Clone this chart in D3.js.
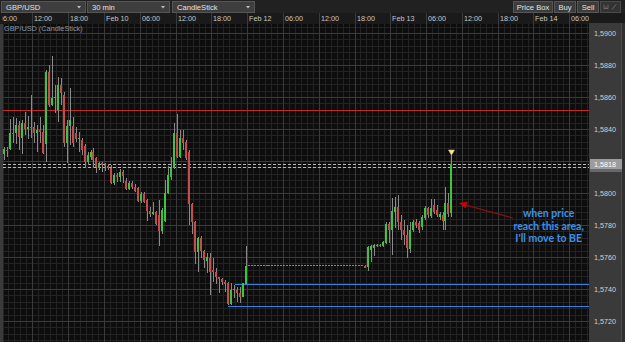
<!DOCTYPE html>
<html><head><meta charset="utf-8">
<script src="https://cdn.jsdelivr.net/npm/d3@7"></script>
<style>html,body{margin:0;padding:0;background:#1f1f1f;overflow:hidden}svg{display:block}</style>
</head><body><svg id="c" width="625" height="342"></svg>
<script>
// ---------------- DATA ----------------
const opens = [
1.58244,1.58269,1.58275,1.58375,1.58375,1.58425,1.58344,1.58437,1.58400,1.58412,
1.58412,1.58375,1.58394,1.58381,1.58306,1.58756,1.58550,1.58594,1.58519,1.58675,
1.58612,1.58312,1.58419,1.58419,1.58375,1.58337,1.58331,1.58294,1.58194,1.58225,
1.58256,1.58219,1.58156,1.58187,1.58175,1.58169,1.58156,1.58062,1.58112,1.58100,
1.58131,1.58075,1.58025,1.58062,1.58037,1.58031,1.57950,1.57994,1.57956,1.57887,
1.57869,1.57881,1.57862,1.57762,1.57825,1.58000,1.58100,1.58156,1.58375,1.58225,
1.58344,1.58319,1.58256,1.57931,1.57819,1.57631,1.57719,1.57637,1.57575,1.57594,
1.57519,1.57506,1.57475,1.57462,1.57444,1.57437,1.57306,1.57394,1.57394,1.57375,
1.57350,1.57431,
1.57547,1.57547,1.57547,1.57547,1.57547,1.57547,1.57547,1.57547,1.57547,1.57547,
1.57547,1.57547,1.57547,1.57547,1.57547,1.57547,1.57547,1.57547,1.57547,1.57547,
1.57547,1.57547,1.57547,1.57547,1.57547,1.57547,1.57547,1.57547,1.57547,1.57547,
1.57547,1.57547,1.57547,1.57547,1.57547,1.57547,1.57547,1.57547,1.57547,
1.57546,1.57537,1.57644,1.57656,1.57672,1.57675,1.57669,1.57687,1.57806,
1.57769,1.57881,1.57912,1.57819,1.57769,1.57737,1.57650,1.57769,1.57819,1.57812,
1.57787,1.57844,1.57906,1.57856,1.57925,1.57894,1.57850,1.57862,1.57825,1.57937,
1.57875];
const closes = [
1.58275,1.58262,1.58375,1.58369,1.58425,1.58350,1.58437,1.58400,1.58412,1.58406,
1.58375,1.58394,1.58381,1.58250,1.58756,1.58550,1.58594,1.58600,1.58675,1.58625,
1.58312,1.58419,1.58456,1.58312,1.58337,1.58344,1.58269,1.58194,1.58237,1.58256,
1.58206,1.58162,1.58187,1.58175,1.58169,1.58156,1.58062,1.58112,1.58100,1.58131,
1.58106,1.58025,1.58062,1.58037,1.58012,1.57950,1.57994,1.57944,1.57887,1.57869,
1.57881,1.57806,1.57762,1.57894,1.58000,1.58112,1.58156,1.58375,1.58225,1.58344,
1.58312,1.58219,1.57931,1.57819,1.57631,1.57719,1.57637,1.57581,1.57600,1.57506,
1.57506,1.57475,1.57462,1.57444,1.57431,1.57306,1.57394,1.57397,1.57375,1.57350,
1.57437,1.57544,
1.57547,1.57547,1.57547,1.57547,1.57547,1.57547,1.57547,1.57547,1.57547,1.57547,
1.57547,1.57547,1.57547,1.57547,1.57547,1.57547,1.57547,1.57547,1.57547,1.57547,
1.57547,1.57547,1.57547,1.57547,1.57547,1.57547,1.57547,1.57547,1.57547,1.57547,
1.57547,1.57547,1.57547,1.57547,1.57547,1.57547,1.57547,1.57547,1.57547,
1.57534,1.57662,1.57669,1.57675,1.57675,1.57672,1.57694,1.57806,1.57769,
1.57887,1.57912,1.57819,1.57769,1.57737,1.57656,1.57769,1.57819,1.57800,1.57769,
1.57850,1.57906,1.57862,1.57906,1.57881,1.57862,1.57869,1.57825,1.57937,1.57869,
1.58180];
const highs = [
1.58287,1.58287,1.58462,1.58475,1.58469,1.58450,1.58456,1.58506,1.58481,1.58612,
1.58444,1.58425,1.58475,1.58425,1.58769,1.58800,1.58856,1.58675,1.58725,1.58719,
1.58631,1.58456,1.58656,1.58475,1.58412,1.58381,1.58344,1.58306,1.58256,1.58269,
1.58281,1.58225,1.58194,1.58194,1.58187,1.58181,1.58175,1.58125,1.58125,1.58150,
1.58144,1.58094,1.58075,1.58075,1.58056,1.58037,1.58006,1.58006,1.57962,1.57912,
1.57944,1.57887,1.57956,1.57906,1.58081,1.58169,1.58225,1.58437,1.58494,1.58394,
1.58394,1.58331,1.58269,1.57937,1.57825,1.57725,1.57731,1.57644,1.57625,1.57625,
1.57594,1.57531,1.57475,1.57469,1.57456,1.57444,1.57437,1.57425,1.57412,1.57412,
1.57437,1.57669,
1.57547,1.57547,1.57547,1.57547,1.57547,1.57547,1.57547,1.57547,1.57547,1.57547,
1.57547,1.57547,1.57547,1.57547,1.57547,1.57547,1.57547,1.57547,1.57547,1.57547,
1.57547,1.57547,1.57547,1.57547,1.57547,1.57547,1.57547,1.57547,1.57547,1.57547,
1.57547,1.57547,1.57547,1.57547,1.57547,1.57547,1.57547,1.57547,1.57547,
1.57547,1.57669,1.57675,1.57681,1.57681,1.57681,1.57700,1.57819,1.57819,
1.57969,1.57975,1.57987,1.57862,1.57831,1.57800,1.57819,1.57831,1.57837,1.57825,
1.57862,1.57919,1.57912,1.57962,1.57962,1.57925,1.57881,1.57881,1.58037,1.58000,
1.58237];
const lows = [
1.58206,1.58225,1.58269,1.58312,1.58306,1.58269,1.58244,1.58362,1.58337,1.58344,
1.58312,1.58256,1.58312,1.58244,1.58194,1.58537,1.58544,1.58500,1.58444,1.58550,
1.58287,1.58187,1.58300,1.58287,1.58319,1.58256,1.58237,1.58156,1.58175,1.58206,
1.58156,1.58125,1.58144,1.58131,1.58137,1.58144,1.58056,1.58050,1.58069,1.58069,
1.58062,1.58019,1.58019,1.58025,1.58006,1.57944,1.57937,1.57937,1.57825,1.57850,
1.57862,1.57800,1.57669,1.57744,1.57819,1.57994,1.58081,1.58150,1.58219,1.58219,
1.58269,1.58206,1.57800,1.57744,1.57556,1.57506,1.57594,1.57531,1.57500,1.57362,
1.57444,1.57431,1.57375,1.57425,1.57381,1.57300,1.57300,1.57344,1.57319,1.57312,
1.57350,1.57431,
1.57547,1.57547,1.57547,1.57547,1.57547,1.57547,1.57547,1.57547,1.57547,1.57547,
1.57547,1.57547,1.57547,1.57547,1.57547,1.57547,1.57547,1.57547,1.57547,1.57547,
1.57547,1.57547,1.57547,1.57547,1.57547,1.57547,1.57547,1.57547,1.57547,1.57547,
1.57547,1.57547,1.57547,1.57547,1.57547,1.57547,1.57547,1.57547,1.57547,
1.57531,1.57512,1.57569,1.57606,1.57662,1.57662,1.57662,1.57681,1.57687,
1.57612,1.57781,1.57769,1.57706,1.57675,1.57594,1.57625,1.57756,1.57781,1.57750,
1.57769,1.57831,1.57844,1.57844,1.57869,1.57850,1.57831,1.57769,1.57769,1.57850,
1.57850];

const timeLabels = ["06:00","12:00","18:00","Feb 10","06:00","12:00","18:00","Feb 12",
                    "06:00","12:00","18:00","Feb 13","06:00","12:00","18:00","Feb 14","06:00"];
const gridPrices = [1.5700,1.5720,1.5740,1.5760,1.5780,1.5800,1.5820,1.5840,1.5860,1.5880,1.5900];
const priceTicks = [1.5720,1.5740,1.5760,1.5780,1.5800,1.5840,1.5860,1.5880,1.5900]; // 1,5820 hidden by price box
const resistanceLevel = 1.58519;
const bidPrice = 1.5818, askPrice = 1.58165;
const zoneTop = 1.57431, zoneBottom = 1.57294;
const zoneTopStart = 77.3, zoneBottomStart = 75.0;       // candle index where zone lines begin
const annotationLines = ["when price","reach this area,","I'll move to BE"];
const arrowTail = {i:170.6, p:1.57844}, arrowHead = {i:152.5, p:1.57937};
const textAnchor = {i:182.6, p:1.57847};
const toolbarBoxes = ["GBP/USD","30 min","CandleStick"];
const toolbarButtons = ["Price Box","Buy","Sell"];
const chartTitle = "GBP/USD (CandleStick)";

// ---------------- SETUP ----------------
const W = 625, H = 342;
const P = {left:3, right:589, top:24, bottom:342};
const svg = d3.select("#c");
const x = d3.scaleLinear().domain([0,150]).range([4, 4 + 150*2.983]);
const y = d3.scaleLinear().domain([1.572,1.590]).range([321,33]);
const FONT = "'Liberation Sans', Arial, sans-serif";

const defs = svg.append("defs");
defs.append("clipPath").attr("id","plotClip").append("rect")
  .attr("x",P.left).attr("y",P.top).attr("width",P.right-P.left).attr("height",P.bottom-P.top);
defs.append("clipPath").attr("id","timeClip").append("rect")
  .attr("x",2.6).attr("y",13).attr("width",P.right-2.6).attr("height",11);

// backgrounds
svg.append("rect").attr("width",W).attr("height",H).attr("fill","#212121");
svg.append("rect").attr("x",0).attr("y",13).attr("width",W).attr("height",11).attr("fill","#1a1a1a");
svg.append("rect").attr("x",P.left).attr("y",P.top).attr("width",P.right-P.left).attr("height",P.bottom-P.top).attr("fill","#0d0d0d");
svg.append("rect").attr("x",0).attr("y",P.top).attr("width",P.left).attr("height",P.bottom-P.top).attr("fill","#3a3a3a");

const plot = svg.append("g").attr("clip-path","url(#plotClip)").attr("shape-rendering","crispEdges");

// minor grid
const minorV = d3.range(-2.5, 200, 2);
plot.selectAll(".mv").data(minorV).join("line")
  .attr("x1",d=>Math.round(x(d))+0.5).attr("x2",d=>Math.round(x(d))+0.5)
  .attr("y1",P.top).attr("y2",P.bottom).attr("stroke","#232323");
const minorH = d3.range(0, 52).map(n => 1.5700 + n*0.0004);
plot.selectAll(".mh").data(minorH).join("line")
  .attr("x1",P.left).attr("x2",P.right)
  .attr("y1",d=>Math.round(y(d))+0.5).attr("y2",d=>Math.round(y(d))+0.5).attr("stroke","#232323");
// major grid
const tickIdx = timeLabels.map((_,i) => -2.5 + 12*i);
plot.selectAll(".Mv").data(tickIdx).join("line")
  .attr("x1",d=>Math.round(x(d))+0.5).attr("x2",d=>Math.round(x(d))+0.5)
  .attr("y1",P.top).attr("y2",P.bottom).attr("stroke","#3a3a3a");
plot.selectAll(".Mh").data(gridPrices).join("line")
  .attr("x1",P.left).attr("x2",P.right)
  .attr("y1",d=>Math.round(y(d))+0.5).attr("y2",d=>Math.round(y(d))+0.5).attr("stroke","#3a3a3a");

// levels
plot.append("line").attr("x1",P.left).attr("x2",P.right)
  .attr("y1",Math.round(y(resistanceLevel))+0.5).attr("y2",Math.round(y(resistanceLevel))+0.5)
  .attr("stroke","#c42828");
plot.append("line").attr("x1",Math.round(x(zoneTopStart))).attr("x2",P.right)
  .attr("y1",Math.round(y(zoneTop))+0.5).attr("y2",Math.round(y(zoneTop))+0.5).attr("stroke","#3d7fdc");
plot.append("line").attr("x1",Math.round(x(zoneBottomStart))).attr("x2",P.right)
  .attr("y1",Math.round(y(zoneBottom))+0.5).attr("y2",Math.round(y(zoneBottom))+0.5).attr("stroke","#3d7fdc");
[bidPrice, askPrice].forEach(p => {
  plot.append("line").attr("x1",P.left).attr("x2",P.right)
    .attr("y1",Math.round(y(p))+0.5).attr("y2",Math.round(y(p))+0.5)
    .attr("stroke","#b8b8b8").attr("stroke-dasharray","3,2");
});

// candles
const candles = opens.map((o,i) => ({i, o, h:highs[i], l:lows[i], c:closes[i]}));
const cg = plot.append("g");
const cx = d => Math.round(x(d.i));
cg.selectAll(".wick").data(candles).join("rect")
  .attr("x",d=>cx(d)).attr("width",1)
  .attr("y",d=>Math.round(y(d.h)))
  .attr("height",d=>Math.max(1, Math.round(y(d.l))-Math.round(y(d.h))))
  .attr("fill","#8a8a8a");
cg.selectAll(".body").data(candles).join("rect")
  .attr("x",d=>cx(d)-1).attr("width",2)
  .attr("y",d=>Math.round(y(Math.max(d.o,d.c))))
  .attr("height",d=>Math.max(1, Math.round(y(Math.min(d.o,d.c)))-Math.round(y(Math.max(d.o,d.c)))))
  .attr("fill",d=> d.c > d.o ? "#3ec43e" : (d.c < d.o ? "#c44c4c" : "#858585"));

// marker above last candle
const last = candles[candles.length-1];
const mx = cx(last)+0.5, my = y(last.h);
svg.append("path").attr("d",`M${mx-3},${my-5}L${mx+3},${my-5}L${mx},${my}Z`)
  .attr("fill","#f4e8a6").attr("stroke","#d9c46a").attr("stroke-width",0.6);

// arrow annotation
const ax1 = x(arrowTail.i), ay1 = y(arrowTail.p), ax2 = x(arrowHead.i), ay2 = y(arrowHead.p);
svg.append("line").attr("x1",ax1).attr("y1",ay1).attr("x2",ax2+5).attr("y2",ay2+1.5)
  .attr("stroke","#8c1010").attr("stroke-width",1.2);
const ang = Math.atan2(ay2-ay1, ax2-ax1);
const hl = 8, hw = 3.5;
const bx = ax2 - hl*Math.cos(ang), by = ay2 - hl*Math.sin(ang);
svg.append("path").attr("d",
  `M${ax2},${ay2}L${bx - hw*Math.sin(ang)},${by + hw*Math.cos(ang)}L${bx + hw*Math.sin(ang)},${by - hw*Math.cos(ang)}Z`)
  .attr("fill","#d00000");

svg.append("g").selectAll("text").data(annotationLines).join("text")
  .attr("x",x(textAnchor.i)).attr("y",(d,i)=>y(textAnchor.p)+i*12.5)
  .attr("text-anchor","middle").attr("font-family","Lato, 'Open Sans', sans-serif")
  .attr("font-weight","bold").attr("font-size","10.5px").attr("fill","#3d8fe6")
  .text(d=>d);

// title
svg.append("text").attr("x",4).attr("y",30.5).attr("font-family",FONT).attr("font-size","7.3px")
  .attr("fill","#8595aa").text(chartTitle);

// time axis
const tAxis = svg.append("g").attr("clip-path","url(#timeClip)").append("g")
  .attr("transform","translate(0,24)")
  .call(d3.axisTop(x).tickValues(tickIdx).tickSize(11).tickFormat((d,i)=>timeLabels[i]));
tAxis.select(".domain").remove();
tAxis.selectAll(".tick line").attr("stroke","#3a3a3a").attr("shape-rendering","crispEdges")
  .attr("transform","translate(0.5,0)");
tAxis.selectAll(".tick").attr("transform",d=>`translate(${Math.round(x(d))},0)`);
tAxis.selectAll(".tick text").attr("text-anchor","start").attr("x",2).attr("y",-3)
  .attr("dy",0).attr("fill","#c8c8c8").attr("font-family",FONT).attr("font-size","7.2px");

// right price axis panel
svg.append("rect").attr("x",P.right).attr("y",23).attr("width",W-P.right).attr("height",H-23).attr("fill","#3a3a3a");
svg.append("rect").attr("x",621).attr("y",23).attr("width",4).attr("height",H-23).attr("fill","#2f2f2f");
svg.append("line").attr("x1",621.5).attr("x2",621.5).attr("y1",23).attr("y2",H).attr("stroke","#4c4c4c");
const yAxis = svg.append("g").attr("transform","translate(594,0)")
  .call(d3.axisRight(y).tickValues(priceTicks).tickSize(0).tickPadding(0)
    .tickFormat(v => d3.format(".4f")(v).replace(".",",")));
yAxis.select(".domain").remove();
yAxis.selectAll("text").attr("fill","#d2d2d2").attr("font-family",FONT).attr("font-size","7.2px");

// current price labels (ask box mostly covered by bid box)
svg.append("rect").attr("x",P.right+1).attr("y",Math.round(y(askPrice))-5).attr("width",32).attr("height",10).attr("fill","#686868");
svg.append("rect").attr("x",P.right+1).attr("y",Math.round(y(bidPrice))-5).attr("width",32).attr("height",10).attr("fill","#9c9c9c");
svg.append("text").attr("x",594).attr("y",y(bidPrice)).attr("dy","0.34em").attr("font-family",FONT)
  .attr("font-size","7.2px").attr("fill","#ffffff").text(d3.format(".4f")(bidPrice).replace(".",","));

// toolbar
const boxX = [[1,85],[87,169],[172,254]];
const tb = svg.append("g").attr("shape-rendering","crispEdges");
toolbarBoxes.forEach((t,i) => {
  const [a,b] = boxX[i];
  tb.append("rect").attr("x",a+0.5).attr("y",1.5).attr("width",b-a).attr("height",11)
    .attr("fill","#3e3e3e").attr("stroke","#555");
  svg.append("text").attr("x",a+5).attr("y",10).attr("font-family",FONT).attr("font-size","7.6px")
    .attr("fill","#e4e4e4").text(t);
  svg.append("path").attr("d",`M${b-8},6L${b-4},6L${b-6},8.5Z`).attr("fill","#c0c0c0");
});
const btnX = [[513,552],[554,575],[577,598]];
toolbarButtons.forEach((t,i) => {
  const [a,b] = btnX[i];
  tb.append("rect").attr("x",a+0.5).attr("y",1.5).attr("width",b-a).attr("height",11)
    .attr("fill","#3c3c3c").attr("stroke","#565656");
  svg.append("text").attr("x",(a+b)/2+0.5).attr("y",10).attr("text-anchor","middle").attr("font-family",FONT)
    .attr("font-size","7.6px").attr("fill","#e4e4e4").text(t);
});
tb.append("rect").attr("x",600.5).attr("y",1.5).attr("width",20).attr("height",11).attr("fill","#333").attr("stroke","#4a4a4a");
svg.append("path").attr("d","M604,4.5v4h4v-4M606,6.5v2").attr("fill","none").attr("stroke","#777").attr("stroke-width",0.8);
svg.append("path").attr("d","M612,9.5L616,4.5").attr("fill","none").attr("stroke","#777").attr("stroke-width",0.8);
</script></body></html>
